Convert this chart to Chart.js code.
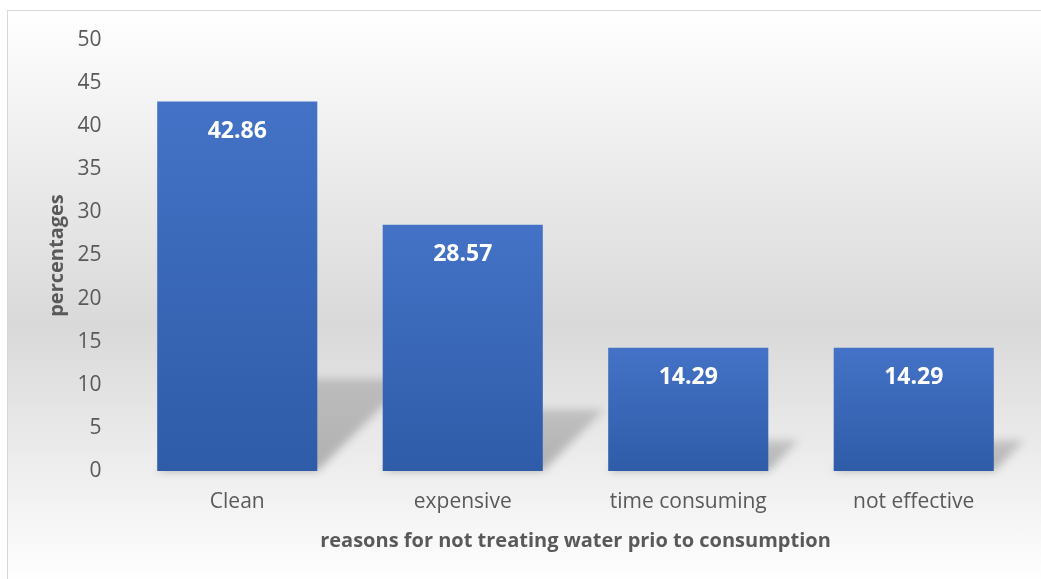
<!DOCTYPE html>
<html>
<head>
<meta charset="utf-8">
<script src="https://cdn.jsdelivr.net/npm/chart.js@4.4.1/dist/chart.umd.min.js"></script>
<style>
  html, body { margin: 0; padding: 0; background: #fff; }
  #frame {
    position: absolute; left: 7px; top: 10px; width: 1040px; height: 575px;
    border: 1px solid #d9d9d9; box-sizing: border-box;
    background: linear-gradient(to bottom, #ffffff 0%, #ededed 25%, #d9d9d9 55%, #f2f2f2 85%, #ffffff 100%);
  }
  #wrap { position: absolute; left: 0; top: 0; width: 1041px; height: 579px; }
</style>
</head>
<body>
<div id="frame"></div>
<div id="wrap"><canvas id="chart"></canvas></div>
<script>
var reasons = ["Clean", "expensive", "time consuming", "not effective"];
var percentages = [42.86, 28.57, 14.29, 14.29];
var yTicks = [0, 5, 10, 15, 20, 25, 30, 35, 40, 45, 50];

var fontFamily = "'Open Sans', 'DejaVu Sans', sans-serif";
var textColor = "#595959";

// vertical blue gradient per bar, light at the top, darker at the base
function barGradient(context) {
  var chart = context.chart;
  var y = chart.scales.y;
  if (!chart.chartArea || !y) return "#3a68b8";
  var top = y.getPixelForValue(context.raw);
  var base = y.getPixelForValue(0);
  var g = chart.ctx.createLinearGradient(0, top, 0, base);
  g.addColorStop(0, "#4472c6");
  g.addColorStop(1, "#2f5ca8");
  return g;
}

// soft slanted shadow thrown back to the right of every bar
var barShadow = {
  id: "barShadow",
  beforeDatasetsDraw: function(chart) {
    var ctx = chart.ctx;
    var meta = chart.getDatasetMeta(0);
    meta.data.forEach(function(bar) {
      var left = bar.x - bar.width / 2;
      var right = bar.x + bar.width / 2;
      var s = (bar.base - bar.y) * 0.25;
      ctx.save();
      ctx.filter = "blur(4px)";
      var g = ctx.createLinearGradient(0, bar.base, 0, bar.base - s);
      g.addColorStop(0, "rgba(0,0,0,0.26)");
      g.addColorStop(1, "rgba(0,0,0,0.16)");
      ctx.fillStyle = g;
      ctx.beginPath();
      ctx.moveTo(left, bar.base);
      ctx.lineTo(right, bar.base);
      ctx.lineTo(right + s, bar.base - s);
      ctx.lineTo(left + s, bar.base - s);
      ctx.closePath();
      ctx.fill();
      ctx.restore();
    });
  }
};

// value written inside the top of each bar
var barValues = {
  id: "barValues",
  afterDatasetsDraw: function(chart) {
    var ctx = chart.ctx;
    var meta = chart.getDatasetMeta(0);
    ctx.save();
    ctx.font = "bold 23px " + fontFamily;
    ctx.fillStyle = "#ffffff";
    ctx.textAlign = "center";
    ctx.textBaseline = "middle";
    meta.data.forEach(function(bar, i) {
      ctx.fillText(percentages[i].toFixed(2), bar.x, bar.y + 30);
    });
    ctx.restore();
  }
};

new Chart(document.getElementById("chart").getContext("2d"), {
  type: "bar",
  data: {
    labels: reasons,
    datasets: [{
      data: percentages,
      backgroundColor: barGradient,
      categoryPercentage: 0.71,
      barPercentage: 1,
    }]
  },
  options: {
    responsive: true,
    maintainAspectRatio: false,
    animation: false,
    layout: { padding: { top: 40, right: 14.5, bottom: 0, left: 0 } },
    plugins: {
      legend: { display: false },
      tooltip: { enabled: false },
    },
    scales: {
      x: {
        grid: { display: false, drawTicks: false },
        border: { display: false },
        ticks: {
          color: textColor,
          padding: 18,
          font: { family: fontFamily, size: 21 },
        },
        title: {
          display: true,
          text: "reasons for not treating water prio to consumption",
          color: textColor,
          font: { family: fontFamily, size: 20, weight: "bold" },
          padding: { top: 0, bottom: 26 },
        },
        afterFit: function(scale) { scale.height = 108; },
      },
      y: {
        min: 0,
        max: 50,
        afterBuildTicks: function(scale) {
          scale.ticks = yTicks.map(function(v) { return { value: v }; });
        },
        grid: { display: false, drawTicks: false },
        border: { display: false },
        ticks: {
          color: textColor,
          padding: 23,
          font: { family: fontFamily, size: 21 },
        },
        title: {
          display: true,
          text: "percentages",
          color: textColor,
          font: { family: fontFamily, size: 20, weight: "bold" },
          padding: { top: 45, bottom: 0 },
        },
        afterFit: function(scale) { scale.width = 124.5; },
      }
    }
  },
  plugins: [barShadow, barValues],
});
</script>
</body>
</html>
